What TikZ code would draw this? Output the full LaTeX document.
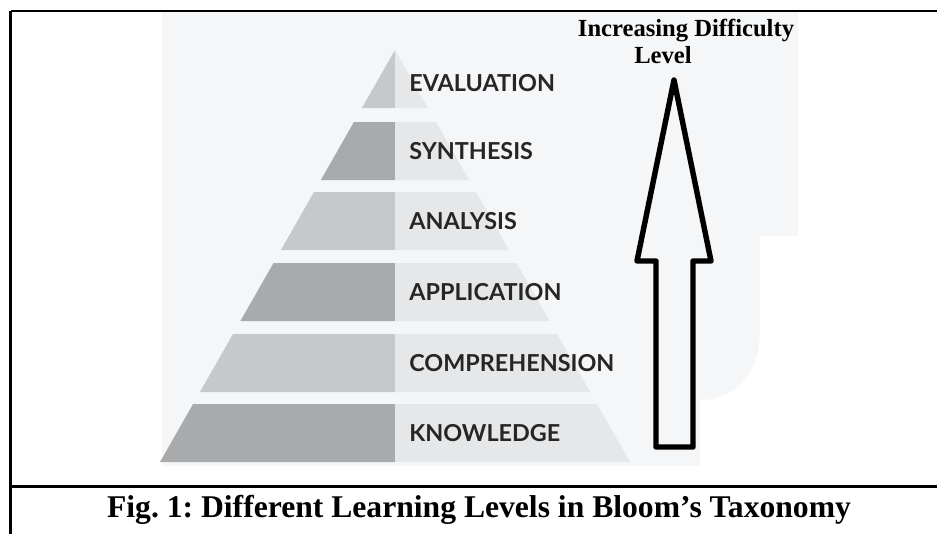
\documentclass[tikz,border=0pt]{standalone}
\usepackage{fontspec}
\setmainfont{Liberation Serif}
\newfontfamily\tierfont{Lato}
\frenchspacing

\definecolor{tierdark}{HTML}{A8AAAC}
\definecolor{tiermid}{HTML}{C7C8CA}
\definecolor{tierlight}{HTML}{E6E7E8}
\definecolor{imgbg}{HTML}{F5F6F8}

\tikzset{
  tierlabel/.style={anchor=west, inner sep=0pt, font=\tierfont\bfseries\fontsize{13.3}{14}\selectfont, text=black!85},
  frameline/.style={line width=1.7pt},
}

\begin{document}
\begin{tikzpicture}[x=0.02cm, y=-0.02cm]
\useasboundingbox (0,0) rectangle (937,534);

% Draw the picture background
\fill[imgbg] (162,12) -- (798,12) -- (798,236) -- (760,236) -- (760,330)
  .. controls (760,380) and (730,400) .. (700,400) -- (700,466) -- (162,466) -- cycle;

% Draw the pyramid tiers (apex at (395,50))
\def\cx{395}
\def\k{0.5704}
\foreach \t/\b/\c/\lbl/\nm/\ty in {50/108/tiermid/EVALUATION/eval/83,
                               122/180/tierdark/SYNTHESIS/synth/151,
                               192/250/tiermid/ANALYSIS/anal/221,
                               263/321/tierdark/APPLICATION/appl/292,
                               334/392/tiermid/COMPREHENSION/compr/363,
                               404/462/tierdark/KNOWLEDGE/know/433} {
  \pgfmathsetmacro\wt{\k*(\t-50)}
  \pgfmathsetmacro\wb{\k*(\b-50)}
  \fill[\c] ({\cx-\wt},\t) -- (\cx,\t) -- (\cx,\b) -- ({\cx-\wb},\b) -- cycle;
  \fill[tierlight] (\cx,\t) -- ({\cx+\wt},\t) -- ({\cx+\wb},\b) -- (\cx,\b) -- cycle;
  \node[tierlabel] (\nm) at (409,\ty) {\lbl};
}

% Draw the arrow
\draw[line width=3.1pt, line join=round, fill=imgbg]
  (674,80) -- (711,261) -- (693,261) -- (693,447) -- (656,447) -- (656,261) -- (637,261) -- cycle;

% Arrow label
\node[anchor=base, inner sep=0pt, font=\bfseries\fontsize{14}{15}\selectfont] (inc) at (686,36) {Increasing Difficulty};
\node[anchor=base, inner sep=0pt, font=\bfseries\fontsize{14}{15}\selectfont] (lvl) at (663,63) {Level};

% Draw the frame
\draw[frameline] (10.5,11) -- (937,11);
\draw[frameline] (10.5,11) -- (10.5,534);
\draw[line width=1.5pt] (10.5,486.5) -- (937,486.5);

% Caption
\node[anchor=base, inner sep=0pt, font=\bfseries\fontsize{18}{20}\selectfont] (cap) at (479,517) {Fig. 1: Different Learning Levels in Bloom’s Taxonomy};

\end{tikzpicture}
\end{document}
